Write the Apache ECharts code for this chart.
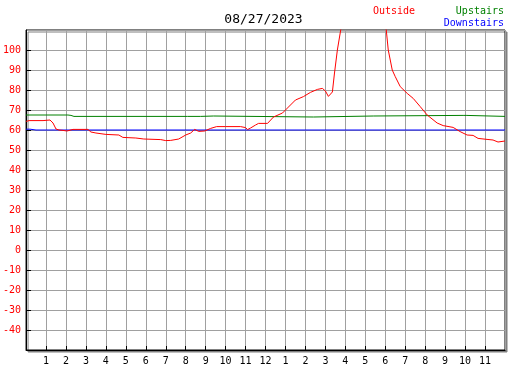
<!DOCTYPE html>
<html>
<head>
<meta charset="utf-8">
<script src="https://cdn.jsdelivr.net/npm/echarts@6/dist/echarts.min.js"></script>
<style>
  html, body { margin: 0; padding: 0; background: #fff; }
  #main { width: 527px; height: 370px; }
</style>
</head>
<body>
<div id="main"></div>
<script>
// hour labels along the bottom (0..24)
var hourLabels = ['', '1', '2', '3', '4', '5', '6', '7', '8', '9', '10', '11',
                  '12', '1', '2', '3', '4', '5', '6', '7', '8', '9', '10', '11', ''];

// Outside temperature (hours since midnight, deg F)
var outsideTime = [0, 0.15, 0.85, 0.9, 1.2, 1.35, 1.5, 1.65, 1.85, 2.05, 2.35, 3.1, 3.25, 3.5,
  4.0, 4.65, 4.85, 5.5, 5.9, 6.75, 7.0, 7.25, 7.65, 8.0, 8.25, 8.45, 8.65, 8.95, 9.25, 9.55,
  10.0, 10.75, 11.0, 11.1, 11.25, 11.5, 11.65, 12.1, 12.4, 12.85, 13.1, 13.5, 13.9, 14.25,
  14.6, 14.85, 15.0, 15.15, 15.35, 15.45, 15.6, 15.75, 15.85, 16.0, 16.5, 17.0, 17.5, 18.0,
  18.05, 18.15, 18.35, 18.5, 18.75, 19.1, 19.4, 19.75, 20.1, 20.6, 20.9, 21.4, 21.75, 22.1,
  22.4, 22.65, 23.1, 23.4, 23.65, 24.0];
var outsideTemp = [64.3, 64.7, 64.7, 65, 65, 63.5, 60.5, 60, 59.8, 59.5, 60.3, 60.3, 59, 58.5,
  57.8, 57.5, 56.3, 56, 55.5, 55.2, 54.7, 54.8, 55.5, 57.5, 58.5, 60.3, 59.3, 59.5, 60.8, 61.7,
  61.7, 61.7, 61.2, 60.2, 61, 62.5, 63.3, 63.3, 66.5, 68.5, 71, 75, 76.7, 78.8,
  80.3, 80.8, 79.5, 76.8, 79, 88, 100, 109, 115, 125, 130, 130, 125, 112,
  110, 100, 90, 86.7, 81.7, 78.3, 75.8, 71.7, 67.5, 63.5, 62.2, 61.3, 59.2, 57.5,
  57.3, 55.8, 55.3, 55, 54, 54.5];

// Upstairs temperature
var upstairsTime = [0, 2.1, 2.15, 2.25, 2.4, 8.1, 8.15, 8.75, 8.8, 9.4, 9.5, 14.4, 14.45,
  17.4, 17.45, 21.9, 21.95, 22.05, 22.15, 24];
var upstairsTemp = [67.5, 67.5, 66.8, 67.3, 66.8, 66.8, 66.6, 66.8, 67, 67, 66.5, 66.5, 67,
  67, 67.3, 67.3, 66.8, 67.3, 66.8, 66.8];

// Downstairs temperature
var downstairsTime = [0, 0.2, 0.25, 0.5, 0.55, 0.6, 0.65, 24];
var downstairsTemp = [60.4, 60.4, 60, 60, 60.4, 60.4, 60, 60];

function pairs(t, v) {
  var out = [];
  for (var i = 0; i < t.length; i++) out.push([t[i], v[i]]);
  return out;
}

var font = 'DejaVu Sans Mono';
var myChart = echarts.init(document.getElementById('main'));
myChart.setOption({
  animation: false,
  backgroundColor: '#fff',
  title: [
    { text: '08/27/2023', left: 'center', top: 13, padding: 0,
      textStyle: { fontFamily: font, fontSize: 13, fontWeight: 'normal', color: '#000' } },
    { text: 'Outside', left: 373, top: 6, padding: 0,
      textStyle: { fontFamily: font, fontSize: 10, fontWeight: 'normal', color: '#ff0000' } },
    { text: 'Upstairs', right: 23, top: 6, padding: 0,
      textStyle: { fontFamily: font, fontSize: 10, fontWeight: 'normal', color: '#008000' } },
    { text: 'Downstairs', right: 23, top: 18, padding: 0,
      textStyle: { fontFamily: font, fontSize: 10, fontWeight: 'normal', color: '#0000ff' } }
  ],
  grid: {
    left: 25, top: 30, right: 22, bottom: 20,
    show: true,
    backgroundColor: '#fff',
    borderColor: '#000',
    borderWidth: 1,
    shadowColor: '#808080',
    shadowBlur: 0,
    shadowOffsetX: 2,
    shadowOffsetY: 2
  },
  xAxis: {
    type: 'value',
    min: 0, max: 24, interval: 1,
    axisLine: { show: true, onZero: false, lineStyle: { color: '#000', width: 1 } },
    axisTick: { show: true, inside: true, length: 4, lineStyle: { color: '#000' } },
    axisLabel: {
      fontFamily: font, fontSize: 10, color: '#000', margin: 6,
      showMinLabel: false, showMaxLabel: false,
      formatter: function (v) { return hourLabels[Math.round(v)]; }
    },
    splitLine: { show: true, lineStyle: { color: '#a0a0a0', width: 1 } }
  },
  yAxis: {
    type: 'value',
    min: -50, max: 110, interval: 10,
    axisLine: { show: true, onZero: false, lineStyle: { color: '#000', width: 1 } },
    axisTick: { show: true, inside: true, length: 5, lineStyle: { color: '#000' } },
    axisLabel: {
      fontFamily: font, fontSize: 10, color: '#ff0000', margin: 5,
      showMinLabel: false, showMaxLabel: false
    },
    splitLine: { show: true, lineStyle: { color: '#a0a0a0', width: 1 } }
  },
  series: [
    { name: 'Upstairs', type: 'line', showSymbol: false, clip: true,
      lineStyle: { color: '#008000', width: 1 }, data: pairs(upstairsTime, upstairsTemp) },
    { name: 'Downstairs', type: 'line', showSymbol: false, clip: true,
      lineStyle: { color: '#0000ff', width: 1 }, data: pairs(downstairsTime, downstairsTemp) },
    { name: 'Outside', type: 'line', showSymbol: false, clip: true,
      lineStyle: { color: '#ff0000', width: 1 }, data: pairs(outsideTime, outsideTemp) }
  ]
});
</script>
</body>
</html>
